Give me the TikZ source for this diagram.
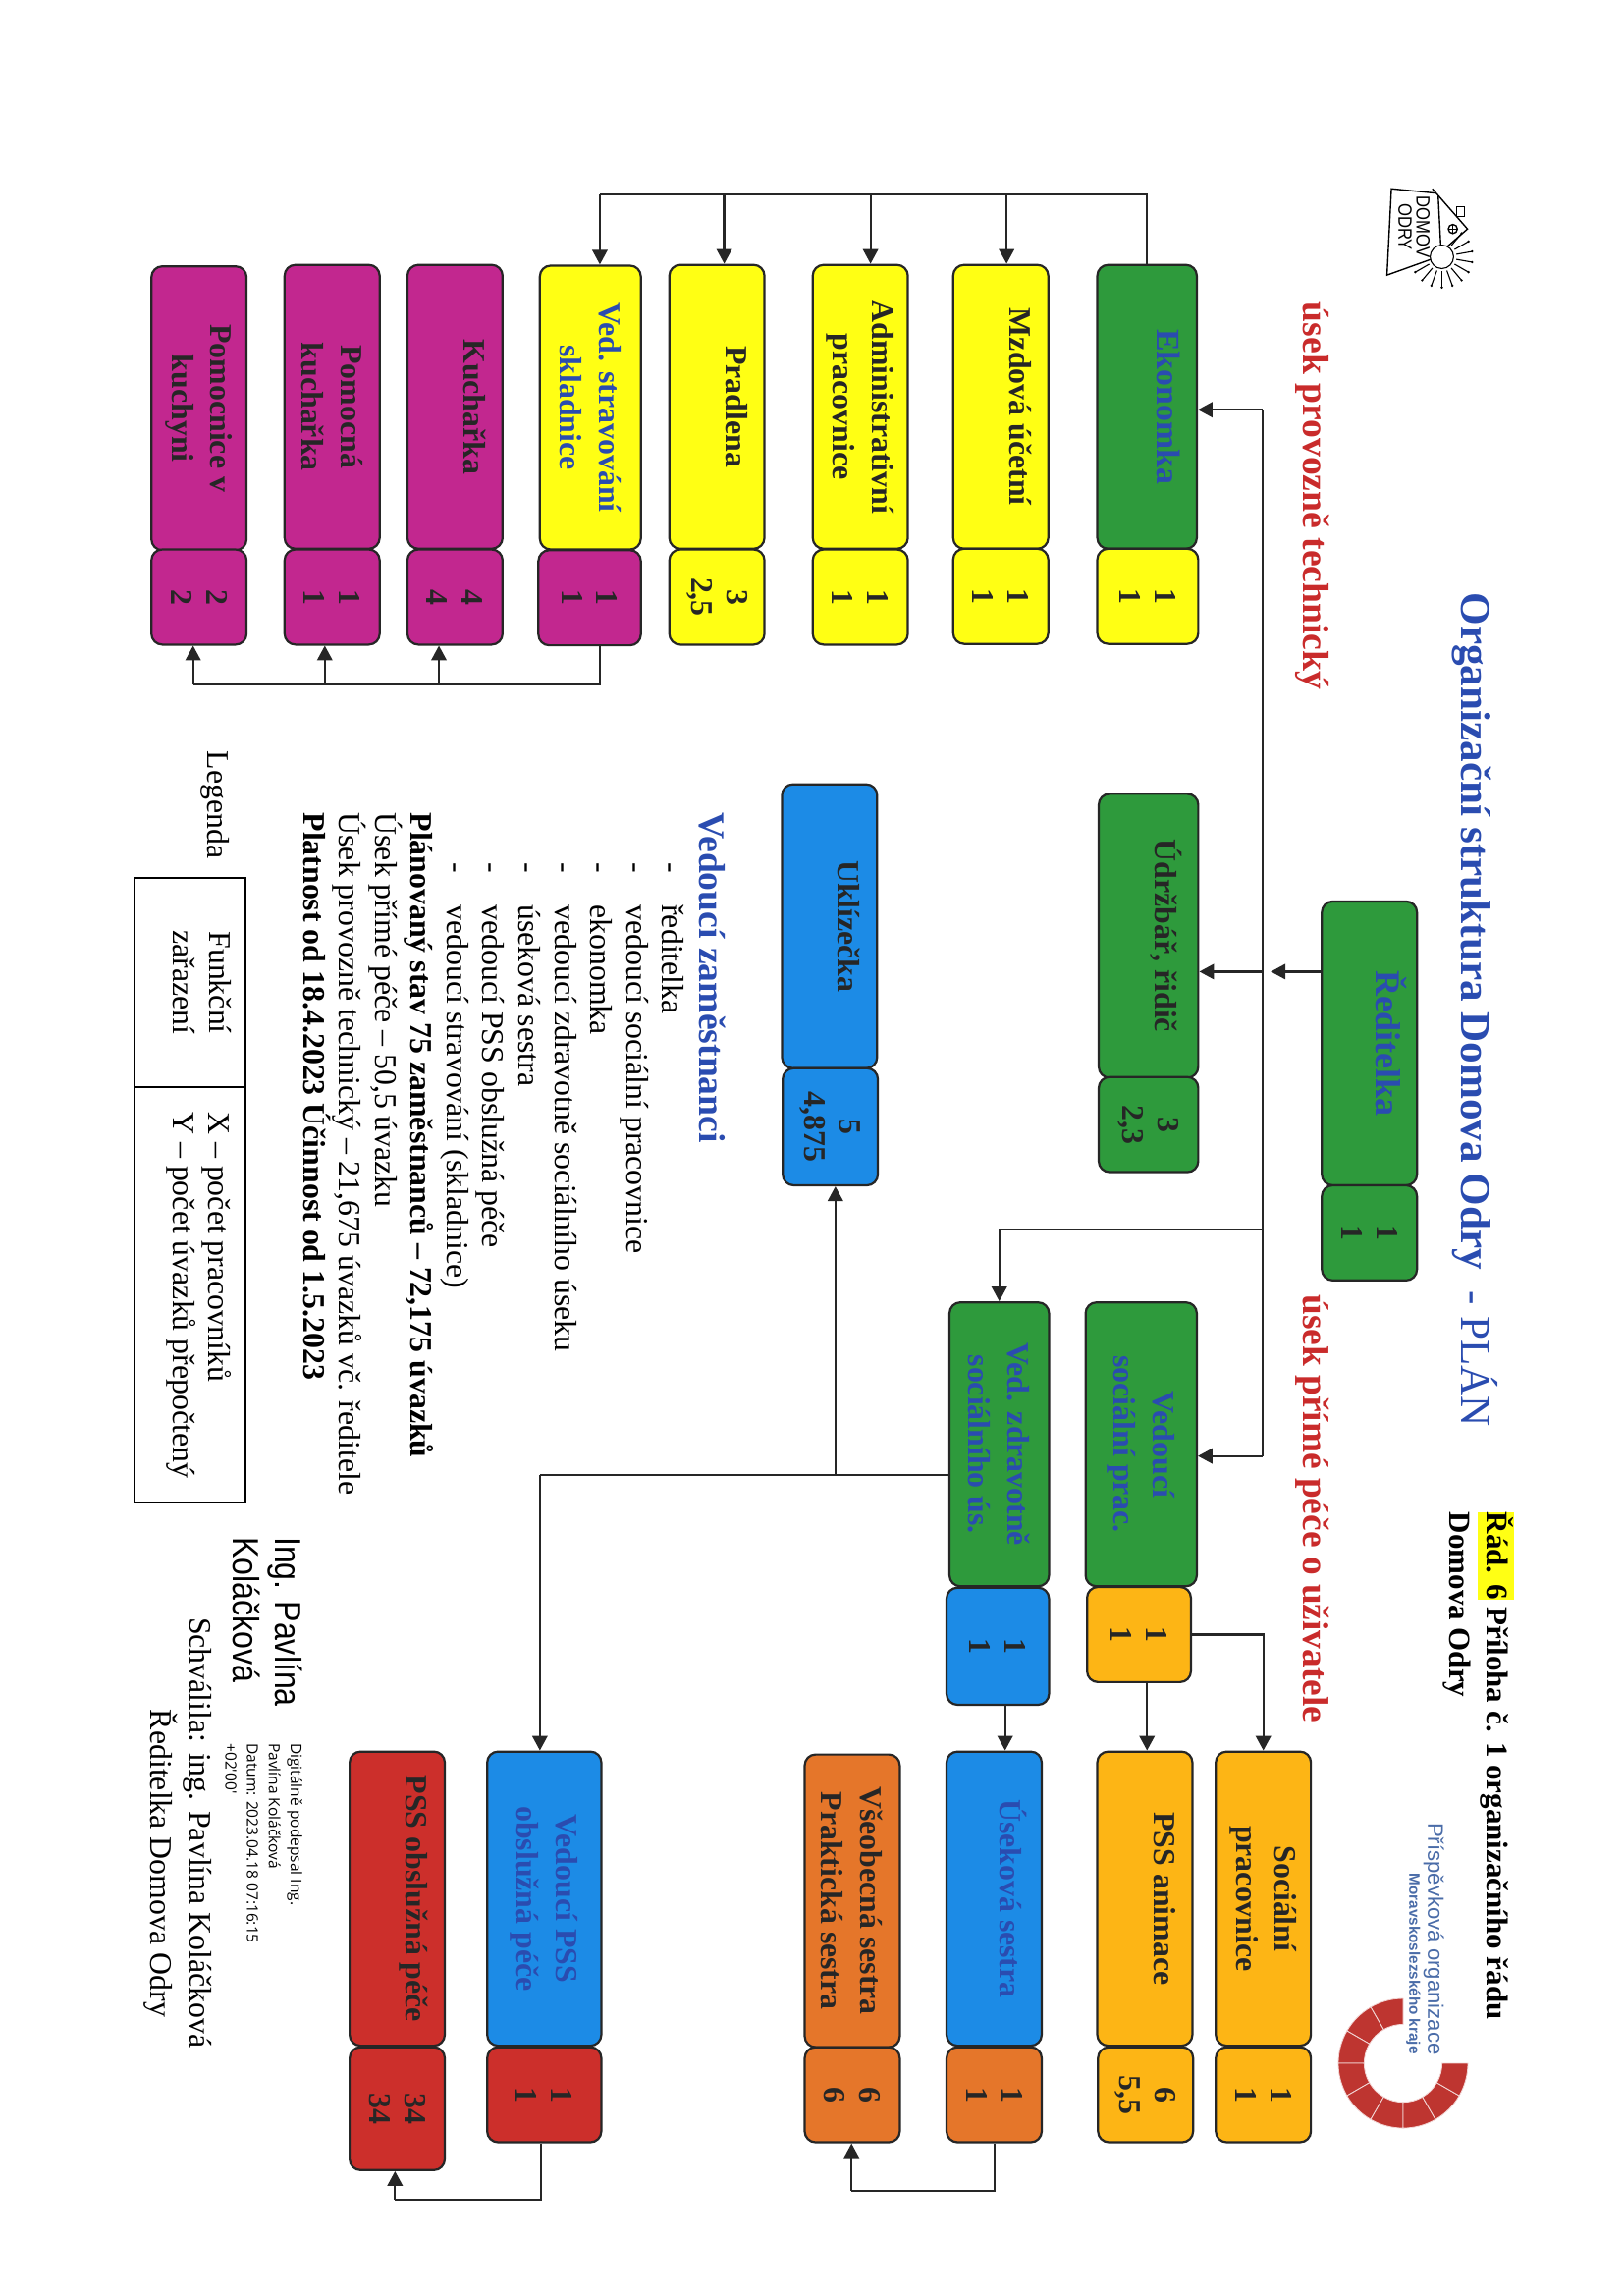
\documentclass[tikz,border=0pt]{standalone}
\usepackage{fontspec}
\setmainfont{Liberation Serif}
\newfontfamily\pismosans{Liberation Sans}
\newfontfamily\pismojmeno[FakeStretch=0.86]{Liberation Sans}
\newfontfamily\pismopodpis{Open Sans}
\usetikzlibrary{arrows.meta}
\def\jed{0.5383pt}
\definecolor{zelena}{HTML}{2E9A3C}
\definecolor{zluta}{HTML}{FFFF14}
\definecolor{purpur}{HTML}{C2278F}
\definecolor{modra}{HTML}{1C8BE6}
\definecolor{oranzova}{HTML}{FDB515}
\definecolor{rezava}{HTML}{E5762A}
\definecolor{cervena}{HTML}{CC2F2B}
\definecolor{nadpis}{HTML}{2A4CB0}
\definecolor{usek}{HTML}{C92B2B}
\definecolor{kruh}{HTML}{BE3530}
\definecolor{kraj}{HTML}{4A6CA8}
\tikzset{>={Triangle[length=5.4pt,width=5.6pt]}}
\tikzset{
  funkce/.style={draw=black!85,line width=0.8pt,rounded corners=4pt,rotate=-90,inner sep=0pt,align=center,text=black!85,
    minimum width=194*\jed,minimum height=65*\jed,font=\fontsize{11.5}{14.4}\selectfont\bfseries},
  jeden/.style={text depth=14.5pt},
  pocet/.style={funkce,minimum width=65*\jed,font=\fontsize{11.5}{13}\selectfont\bfseries},
  volny/.style={rotate=-90,inner sep=0pt,align=left,font=\fontsize{11.5}{13.2}\selectfont},
  spoj/.style={line width=0.8pt,black!85}
}
\newcommand{\polozka}[1]{\hspace{18.3pt}\makebox[15.6pt][l]{-}#1}

\begin{document}
\begin{tikzpicture}[x=\jed,y=-\jed]
    \useasboundingbox (0,0) rectangle (1110,1569.04);

    % nadpisy
    \node[volny,text=nadpis,font=\fontsize{15.6}{20}\selectfont] (titul) at (1008,690) {\textbf{Organizační struktura Domova Odry} \ - PLÁN};
    \node[volny,anchor=north west,font=\fontsize{11.2}{14}\selectfont\bfseries] (rad) at (1035,1033) {{\fboxsep=0pt\colorbox{zluta}{\rule[-3.5pt]{0pt}{13pt}Řád. 6}} Příloha č. 1 organizačního řádu\\Domova Odry};
    \node[volny,text=usek,font=\fontsize{13.6}{16}\selectfont\bfseries] (usekprovoz) at (897,339) {úsek provozně technický};
    \node[volny,text=usek,font=\fontsize{13.5}{16}\selectfont\bfseries] (usekpece) at (897,1031) {úsek přímé péče o uživatele};

    % logo domova
    \draw[line width=0.5pt] (981.5,132) -- (951,129) -- (948,188) -- (980,176.5);
    \draw[line width=0.5pt] (979,129) -- (1003,156.5) -- (980,176.5);
    \draw[line width=0.5pt] (983,134) -- (985,173);
    \draw[line width=0.5pt] (993,156.5) circle (3.1);
    \draw[line width=0.3pt] (990,156.5) -- (996,156.5) (993,153.5) -- (993,159.5);
    \draw[line width=0.4pt] (995.6,141) rectangle (1001,147.7);
    \coordinate (slunce) at (985.5,175.5);
    \draw[line width=0.4pt,fill=white] (slunce) circle (8);
    \foreach \a in {-50,-30,...,150}{
      \draw[line width=0.4pt] ([shift={(\a:10)}]slunce) -- ([shift={(\a:21)}]slunce);
      \fill ([shift={(\a:21)}]slunce) circle (0.9);
    }
    \node[volny,align=center,font=\pismojmeno\fontsize{7}{6.6}\selectfont] (domov) at (966.5,155) {DOMOV\\ODRY};

    % logo kraje
    \begin{scope}[shift={(959,1410)},y=\jed]
      \foreach \a in {90,120,...,330}
        \fill[kruh,draw=white!80!kruh,line width=0.3pt] (\a:44.3) arc[start angle=\a,end angle=\a+30,radius=44.3]
          -- ({\a+30}:26.6) arc[start angle=\a+30,end angle=\a,radius=26.6] -- cycle;
    \end{scope}
    \node[volny,text=kraj,font=\pismosans\fontsize{8}{9}\selectfont] (organizace) at (980,1325) {Příspěvková organizace};
    \node[volny,text=kraj,font=\pismosans\fontsize{5.5}{6}\selectfont\bfseries] (kraj) at (966,1342) {Moravskoslezského kraje};

    % usek provozne technicky
    \node[funkce,jeden,text depth=16pt,fill=zelena,text=nadpis,minimum height=68*\jed,font=\fontsize{12.2}{14}\selectfont\bfseries] (ekonomka) at (784,278) {Ekonomka};
    \node[pocet,fill=zluta,minimum height=69*\jed] (ekonomkaP) at (784.5,407.5) {1\\1};
    \node[funkce,jeden,fill=zluta] (mzdova) at (684,278) {Mzdová účetní};
    \node[pocet,fill=zluta] (mzdovaP) at (684,407.5) {1\\1};
    \node[funkce,fill=zluta] (admin) at (588,278) {Administrativní\\pracovnice};
    \node[pocet,fill=zluta] (adminP) at (588,408) {1\\1};
    \node[funkce,jeden,fill=zluta] (pradlena) at (490,278) {Pradlena};
    \node[pocet,fill=zluta] (pradlenaP) at (490,408) {3\\2,5};
    \node[funkce,fill=zluta,text=nadpis,minimum height=69*\jed] (sklad) at (403.5,278.5) {Ved. stravování\\skladnice};
    \node[pocet,fill=purpur,minimum height=70*\jed] (skladP) at (403,408.5) {1\\1};
    \node[funkce,jeden,fill=purpur] (kucharka) at (311,278) {Kuchařka};
    \node[pocet,fill=purpur] (kucharkaP) at (311,408) {4\\4};
    \node[funkce,fill=purpur] (pomocna) at (227,278) {Pomocná\\kuchařka};
    \node[pocet,fill=purpur] (pomocnaP) at (227,408) {1\\1};
    \node[funkce,fill=purpur] (pomocnice) at (136,279) {Pomocnice v\\kuchyni};
    \node[pocet,fill=purpur] (pomocniceP) at (136,408) {2\\2};

    % stred
    \node[funkce,jeden,text depth=16pt,fill=zelena,text=nadpis,font=\fontsize{13}{14}\selectfont\bfseries] (reditelka) at (936,713) {Ředitelka};
    \node[pocet,fill=zelena] (reditelkaP) at (936,842.5) {1\\1};
    \node[funkce,jeden,fill=zelena,minimum height=68*\jed] (udrzbar) at (785,639.5) {Údržbář, řidič};
    \node[pocet,fill=zelena,minimum height=68*\jed] (udrzbarP) at (785,768.5) {3\\2,3};
    \node[funkce,jeden,fill=modra] (uklid) at (567,633) {Uklízečka};
    \node[pocet,fill=modra,minimum width=80*\jed] (uklidP) at (567.5,770) {5\\4,875};

    % usek prime pece
    \node[funkce,fill=zelena,text=nadpis,minimum height=76*\jed] (socialni) at (780,987) {Vedoucí\\sociální prac.};
    \node[pocet,fill=oranzova,minimum height=71*\jed] (socialniP) at (778.5,1117) {1\\1};
    \node[funkce,fill=zelena,text=nadpis,minimum height=68*\jed] (zdrav) at (683,987) {Ved. zdravotně\\sociálního ús.};
    \node[pocet,fill=modra,minimum height=70*\jed,minimum width=80*\jed] (zdravP) at (682,1125) {1\\1};
    \node[funkce,fill=oranzova,minimum width=201*\jed] (pracovnice) at (863.5,1297.5) {Sociální\\pracovnice};
    \node[pocet,fill=oranzova] (pracovniceP) at (863.5,1431.5) {1\\1};
    \node[funkce,jeden,fill=oranzova,minimum width=201*\jed] (animace) at (782.5,1297.5) {PSS animace};
    \node[pocet,fill=oranzova] (animaceP) at (783,1431.5) {6\\5,5};
    \node[funkce,jeden,fill=modra,text=nadpis,minimum width=201*\jed] (useksestra) at (679.5,1297.5) {Úseková sestra};
    \node[pocet,fill=rezava] (useksestraP) at (679.5,1431.5) {1\\1};
    \node[funkce,fill=rezava,minimum width=200*\jed] (vseob) at (582.5,1299) {Všeobecná sestra\\Praktická sestra};
    \node[pocet,fill=rezava] (vseobP) at (582.5,1431.5) {6\\6};
    \node[funkce,fill=modra,text=nadpis,minimum width=201*\jed,minimum height=78*\jed] (vedpss) at (372,1297.5) {Vedoucí PSS\\obslužná péče};
    \node[pocet,fill=cervena,minimum height=78*\jed] (vedpssP) at (372,1431.5) {1\\1};
    \node[funkce,jeden,fill=cervena,minimum width=201*\jed] (pss) at (271.5,1297.5) {PSS obslužná péče};
    \node[pocet,fill=cervena,minimum width=84*\jed] (pssP) at (271.5,1441) {34\\34};

    % spoje od reditelky
    \coordinate (kmenE) at (863,280);
    \coordinate (kmenU) at (863,664);
    \coordinate (kmenZ) at (863,840);
    \coordinate (kmenS) at (863,995);
    \draw[spoj] (kmenE) -- (kmenS);
    \draw[spoj,->] (kmenE) -- (kmenE -| ekonomka.north);
    \draw[spoj,->,shorten >=3pt] (kmenU -| reditelka.south) -- (kmenU);
    \draw[spoj,->] (kmenU) -- (kmenU -| udrzbar.north);
    \draw[spoj,->] (kmenS) -- (kmenS -| socialni.north);
    \draw[spoj,->] (kmenZ) -| (zdrav.west);

    % spoje provozni usek
    \coordinate (hore) at (410,133);
    \draw[spoj] (ekonomka.west) |- (hore);
    \foreach \x/\cil in {688/mzdova,595/admin,495/pradlena,410/sklad}
      \draw[spoj,->] (\x,133) -- (\x,133 |- \cil.west);
    \coordinate (dole) at (410,468);
    \draw[spoj] (dole |- skladP.east) -- (dole) -- (132,468);
    \foreach \x/\cil in {300/kucharkaP,222/pomocnaP,132/pomocniceP}
      \draw[spoj,->] (\x,468) -- (\x,468 |- \cil.east);

    % spoje prima pece
    \coordinate (zdravU) at (571,1008);
    \coordinate (zdravV) at (369,1008);
    \draw[spoj] (zdravU -| zdrav.south) -- (zdravV);
    \draw[spoj,->] (zdravU) -- (zdravU |- uklidP.east);
    \draw[spoj,->] (zdravV) -- (zdravV |- vedpss.west);
    \draw[spoj,->] (socialniP.north) -| (pracovnice.west);
    \coordinate (sociA) at (784,1170);
    \draw[spoj,->] (sociA |- socialniP.east) -- (sociA |- animace.west);
    \coordinate (zdravS) at (687,1180);
    \draw[spoj,->] (zdravS |- zdravP.east) -- (zdravS |- useksestra.west);
    \coordinate (sestraA) at (680,1497);
    \coordinate (sestraB) at (582,1497);
    \draw[spoj] (sestraA |- useksestraP.east) -- (sestraA) -- (sestraB);
    \draw[spoj,->] (sestraB) -- (sestraB |- vseobP.east);
    \coordinate (pssA) at (370,1503);
    \coordinate (pssB) at (270,1503);
    \draw[spoj] (pssA |- vedpssP.east) -- (pssA) -- (pssB);
    \draw[spoj,->] (pssB) -- (pssB |- pssP.east);

    % vedouci zamestnanci
    \node[volny,anchor=west,text=nadpis,font=\fontsize{13.6}{16}\selectfont\bfseries] (vedouci) at (487,555) {Vedoucí zaměstnanci};
    \node[volny,anchor=north west] (seznam) at (468,555) {\polozka{ředitelka}\\
      \polozka{vedoucí sociální pracovnice}\\
      \polozka{ekonomka}\\
      \polozka{vedoucí zdravotně sociálního úseku}\\
      \polozka{úseková sestra}\\
      \polozka{vedoucí PSS obslužná péče}\\
      \polozka{vedoucí stravování (skladnice)}\\
      \textbf{Plánovaný stav 75 zaměstnanců – 72,175 úvazků}\\
      Úsek přímé péče – 50,5 úvazku\\
      Úsek provozně technický – 21,675 úvazků vč. ředitele\\
      \textbf{Platnost od 18.4.2023 Účinnost od 1.5.2023}};

    % legenda
    \node[volny,anchor=west] (legenda) at (147,513) {Legenda};
    \node[volny,draw,line width=0.8pt,align=center,text depth=9pt,minimum width=143*\jed,minimum height=76*\jed] (legF) at (130,671.5) {Funkční\\zařazení};
    \node[volny,draw,line width=0.8pt,text depth=9pt,minimum width=284*\jed,minimum height=76*\jed] (legP) at (130,885) {X – počet pracovníků\\Y – počet úvazků přepočtený};

    % podpis
    \node[volny,anchor=north west,font=\pismojmeno\fontsize{13.5}{15.6}\selectfont] (jmeno) at (207,1050) {Ing. Pavlína\\Koláčková};
    \node[volny,anchor=north west,font=\pismopodpis\fontsize{5.6}{8}\selectfont] (dig) at (207,1191) {Digitálně podepsal Ing.\\Pavlína Koláčková\\Datum: 2023.04.18 07:16:15\\+02'00'};
    \node[volny,anchor=west] (schvalila) at (135,1105) {Schválila: ing. Pavlína Koláčková};
    \node[volny,anchor=west] (podpis) at (110,1168) {Ředitelka Domova Odry};
\end{tikzpicture}
\end{document}
